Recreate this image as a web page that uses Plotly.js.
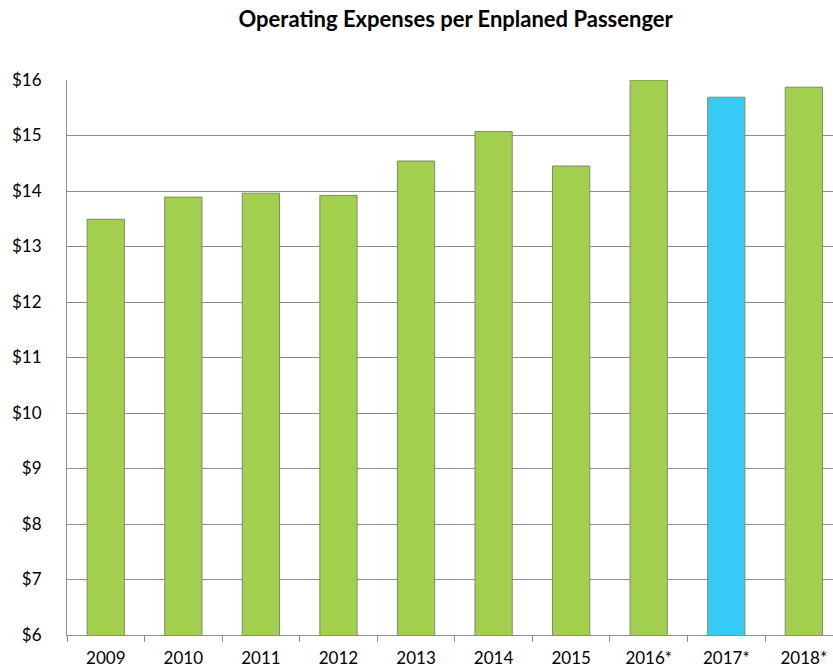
<!DOCTYPE html>
<html>
<head>
<meta charset="utf-8">
<script src="https://cdn.plot.ly/plotly-3.0.1.min.js"></script>
<style>
  html, body { margin: 0; padding: 0; background: #ffffff; overflow: hidden; }
  #chart { width: 833px; height: 670px; }
</style>
</head>
<body>
<div id="chart"></div>
<script>
// Data
const years = ["2009", "2010", "2011", "2012", "2013", "2014", "2015", "2016*", "2017*", "2018*"];
const expensePerPassenger = [13.49, 13.89, 13.96, 13.92, 14.54, 15.07, 14.45, 16.0, 15.69, 15.87];
const highlightYear = "2017*";

const greenFill = "#a3cf4f";
const blueFill = "#35cbf7";
const barColors = years.map(y => (y === highlightYear ? blueFill : greenFill));

const trace = {
  type: "bar",
  x: years,
  y: expensePerPassenger,
  marker: {
    color: barColors,
    line: { color: "#7d8a6a", width: 1 }
  },
  hoverinfo: "x+y"
};

const fontFamily = "Lato, 'Noto Sans', sans-serif";

const layout = {
  width: 833,
  height: 670,
  paper_bgcolor: "#ffffff",
  plot_bgcolor: "#ffffff",
  margin: { l: 67, r: 0, t: 80, b: 35, pad: 0 },
  bargap: 0.52,
  showlegend: false,
  title: {
    text: "<b>Operating Expenses per Enplaned Passenger</b>",
    font: { family: fontFamily, size: 22, color: "#000000" },
    xref: "container",
    x: 0.547,
    xanchor: "center",
    yref: "container",
    y: 1 - 19 / 670,
    yanchor: "middle"
  },
  xaxis: {
    type: "category",
    range: [-0.5, 9.376],
    showgrid: false,
    showline: true,
    linecolor: "#8c8c8c",
    linewidth: 1,
    ticks: "outside",
    tickson: "boundaries",
    ticklen: 6,
    tickcolor: "#8c8c8c",
    ticklabelstandoff: 8,
    tickfont: { family: fontFamily, size: 17, color: "#000000" },
    fixedrange: true,
    zeroline: false
  },
  yaxis: {
    range: [6, 16],
    dtick: 1,
    tick0: 6,
    tickprefix: "$",
    showgrid: true,
    gridcolor: "#8c8c8c",
    gridwidth: 1,
    showline: true,
    linecolor: "#8c8c8c",
    linewidth: 1,
    ticks: "",
    ticklabelstandoff: 21,
    tickfont: { family: fontFamily, size: 17, color: "#000000" },
    zeroline: false,
    fixedrange: true
  }
};

Plotly.newPlot("chart", [trace], layout, { displayModeBar: false, staticPlot: true });
</script>
</body>
</html>
